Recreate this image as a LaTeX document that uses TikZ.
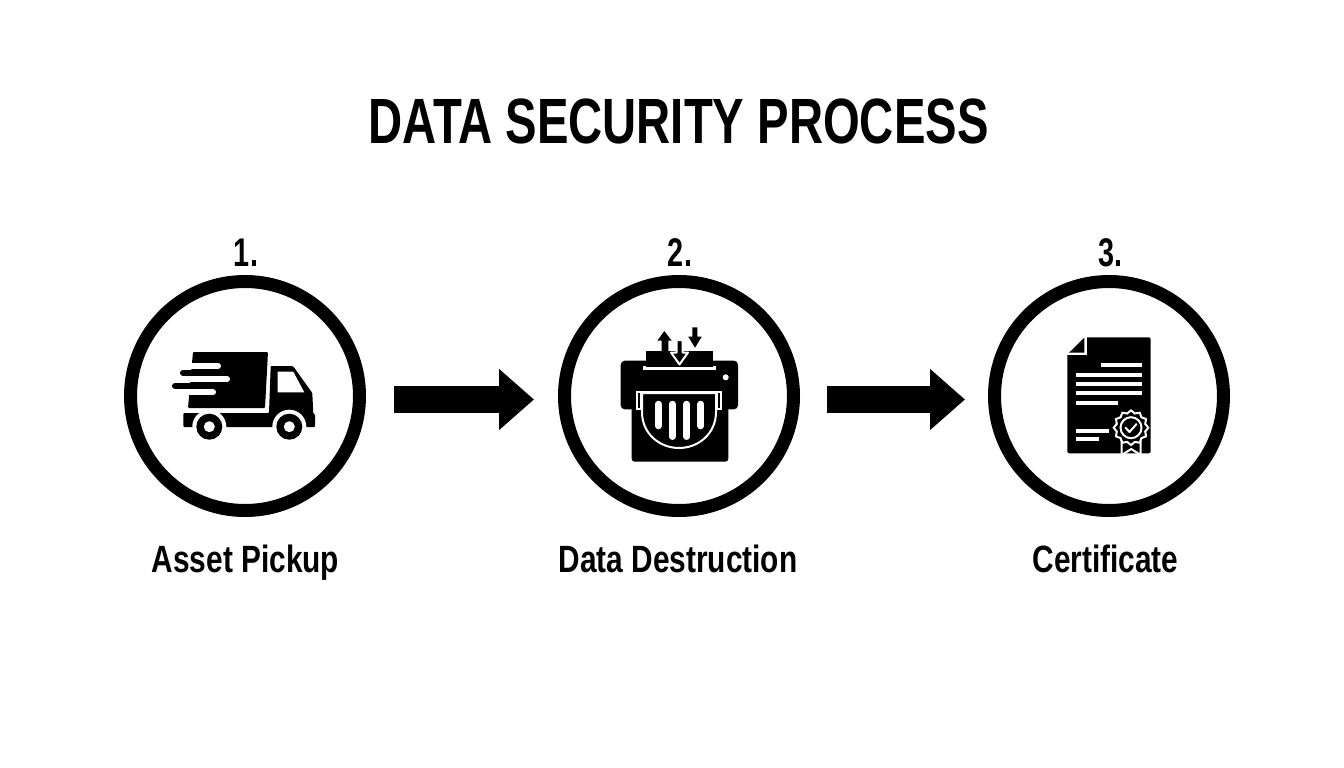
\documentclass[tikz,border=0pt]{standalone}
\usepackage{fontspec}
\setmainfont{Liberation Sans}
\usetikzlibrary{arrows.meta,positioning}
\tikzset{
	ring/.style={circle,draw=black,line width=13pt,minimum size=229pt,inner sep=0pt},
	titletext/.style={font=\fontsize{64}{64}\selectfont\bfseries,xscale=0.738,inner sep=0pt,anchor=base},
	numtext/.style={font=\fontsize{40}{40}\selectfont\bfseries,xscale=0.72,inner sep=0pt,anchor=base},
	steptext/.style={font=\fontsize{38}{38}\selectfont\bfseries,xscale=0.785,inner sep=0pt,anchor=base},
	flowarrow/.style={line width=27pt,-{Triangle[length=35pt,width=59pt]}},
	wline/.style={draw=white,line width=4pt},
	wthin/.style={draw=white,line width=2pt},
	speed/.style={line width=6pt,line cap=round}
}
\begin{document}
\begin{tikzpicture}[x=1pt,y=-1pt]
	\useasboundingbox (0,0) rectangle (1344,768);
	\node[titletext] (title) at (678.5,143) {DATA SECURITY PROCESS};

	\node[ring] (c1) at (245,396) {};
	\node[ring] (c2) at (679,396) {};
	\node[ring] (c3) at (1109,396) {};

	\node[numtext] (n1) at (246,266) {1.};
	\node[numtext] (n2) at (680,266) {2.};
	\node[numtext] (n3) at (1110,266) {3.};

	\node[steptext] (l1) at (245.5,572) {Asset Pickup};
	\node[steptext] (l2) at (678,572) {Data Destruction};
	\node[steptext] (l3) at (1105.5,572) {Certificate};

	\coordinate (a1) at (394,399.5);
	\coordinate (b1) at (534,399.5);
	\coordinate (a2) at (827,399.5);
	\coordinate (b2) at (965,399.5);
	\draw[flowarrow] (a1) -- (b1);
	\draw[flowarrow] (a2) -- (b2);

	% truck
	\fill[rounded corners=1pt] (193,352) -- (268,352) -- (265,408) -- (188,408) -- cycle;
	\draw[white,speed] (186,366) -- (218,366);
	\draw[white,speed] (186,379.3) -- (227,379.3);
	\draw[white,speed] (186,392.3) -- (213,392.3);
	\draw[speed] (183,372.7) -- (200,372.7);
	\draw[speed] (175,386) -- (200,386);
	\fill[rounded corners=1pt] (270.7,366) -- (293,366) -- (312.3,393) -- (313.3,414) -- (315,414) -- (315,427) -- (183.3,427) -- (183.3,413) -- (269,413) -- cycle;
	\fill[white] (277.7,371.7) -- (293.3,371.7) -- (304.3,392.3) -- (277.7,392.3) -- cycle;
	\foreach \wx in {209.3,289.3} {
		\fill[white] (\wx,426.7) circle (17pt);
		\fill (\wx,426.7) circle (13pt);
		\fill[white] (\wx,426.7) circle (5.5pt);
	}

	% shredder
	\fill[rounded corners=4pt] (620.7,360.7) rectangle (738,409.3);
	\fill[rounded corners=3pt] (631.7,405) rectangle (728.3,461.7);
	\fill[white] (643,366) rectangle (716,370);
	\fill (646,350.7) rectangle (713.3,366.7);
	\fill[white] (725.7,377.3) circle (3pt);
	\draw[wthin,fill=black] (637,392) -- (721,392) -- (721,409) -- (717,409) -- (717,392) -- (641,392) -- (641,409) -- (637,409) -- cycle;
	\draw[wthin,fill=black] (642,393) -- (716,393) -- (716,412) .. controls (716,434) and (698,448) .. (679,448) .. controls (660,448) and (642,434) .. (642,412) -- cycle;
	\foreach \sx/\sy in {658.3/426,672.3/436.7,686.7/436.7,700.7/426}
		\draw[white,line width=6.5pt,line cap=round] (\sx,404) -- (\sx,\sy);
	\fill (664.3,331) -- (671.7,340.7) -- (668.3,340.7) -- (668.3,352) -- (661.7,352) -- (661.7,340.7) -- (657.3,340.7) -- cycle;
	\fill (692.3,327.3) -- (697.3,327.3) -- (697.3,336.7) -- (701.7,336.7) -- (695,347.7) -- (688.3,336.7) -- (692.3,336.7) -- cycle;
	\draw[white,line width=2pt,fill=black,line join=round] (676.7,340) -- (682.7,340) -- (682.7,352.5) -- (688,352.5) -- (679.5,364.5) -- (671,352.5) -- (676.7,352.5) -- cycle;

	% certificate
	\fill[rounded corners=2pt] (1067.3,337.3) rectangle (1150.7,453.3);
	\fill[white] (1060,330) rectangle (1086.7,355);
	\fill (1069,352.7) -- (1084.3,337.7) -- (1084.3,352.7) -- cycle;
	\foreach \ly/\lx/\rx in {365/1100.7/1142.3,374.7/1076/1142.3,384/1076/1142.3,393.3/1076/1142.3,403/1076/1118.3,430.7/1076/1108.7,439.3/1076/1099.3}
		\draw[wline] (\lx,\ly) -- (\rx,\ly);
	\draw[wthin,fill=black] (1121.7,438) -- (1140.7,438) -- (1140.7,455) -- (1131.2,449) -- (1121.7,455) -- cycle;
	\draw[wthin,fill=black] plot[smooth cycle,domain=0:345,samples=24] ({1131+(16+1.3*cos(12*\x))*cos(\x)},{427.7+(16+1.3*cos(12*\x))*sin(\x)});
	\draw[wthin] (1131,427.7) circle (10.5pt);
	\draw[wthin,line cap=round,line join=round] (1125.5,427.7) -- (1129.5,432) -- (1136.5,424);
\end{tikzpicture}
\end{document}
